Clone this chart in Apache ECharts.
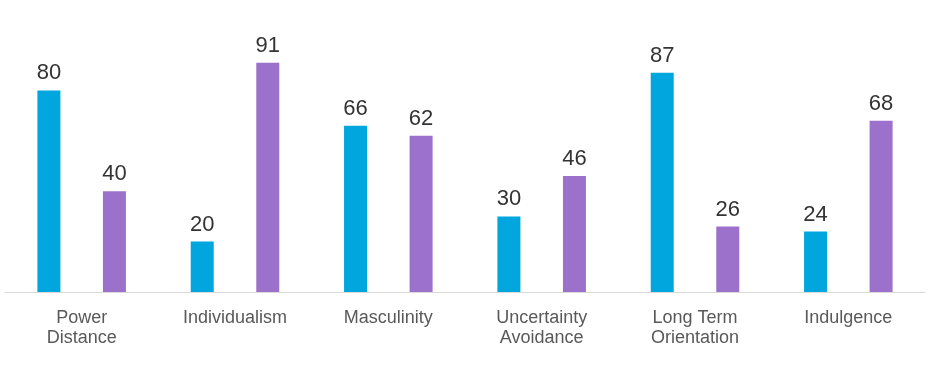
<!DOCTYPE html>
<html>
<head>
<meta charset="utf-8">
<script src="https://cdn.jsdelivr.net/npm/echarts@6/dist/echarts.min.js"></script>
<style>
  html, body { margin: 0; padding: 0; background: #fff; }
  #main { width: 930px; height: 375px; }
</style>
</head>
<body>
<div id="main"></div>
<script>
// categories and the two country scores
var categories = ["Power\nDistance", "Individualism", "Masculinity", "Uncertainty\nAvoidance", "Long Term\nOrientation", "Indulgence"];
var seriesA = [80, 20, 66, 30, 87, 24];
var seriesB = [40, 91, 62, 46, 26, 68];

var myChart = echarts.init(document.getElementById("main"));
var labelStyle = {
  show: true,
  position: "top",
  distance: 6,
  fontSize: 22,
  color: "#333333",
  fontFamily: "Liberation Sans, Arial, sans-serif",
};
var option = {
  animation: false,
  grid: { left: 5, right: 5, top: 40, bottom: 83 },
  xAxis: {
    type: "category",
    data: categories,
    axisLine: { lineStyle: { color: "#d9d9d9", width: 1 } },
    axisTick: { show: false },
    axisLabel: {
      interval: 0,
      margin: 16,
      fontSize: 18,
      lineHeight: 20,
      color: "#595959",
      fontFamily: "Liberation Sans, Arial, sans-serif",
    },
  },
  yAxis: {
    type: "value",
    min: 0,
    max: 100,
    show: false,
    splitLine: { show: false },
  },
  series: [
    {
      type: "bar",
      data: seriesA,
      barWidth: 23,
      barGap: "185%",
      itemStyle: { color: "#00a6dd" },
      label: labelStyle,
    },
    {
      type: "bar",
      data: seriesB,
      barWidth: 23,
      itemStyle: { color: "#9c71cb" },
      label: labelStyle,
    },
  ],
};
myChart.setOption(option);
</script>
</body>
</html>
